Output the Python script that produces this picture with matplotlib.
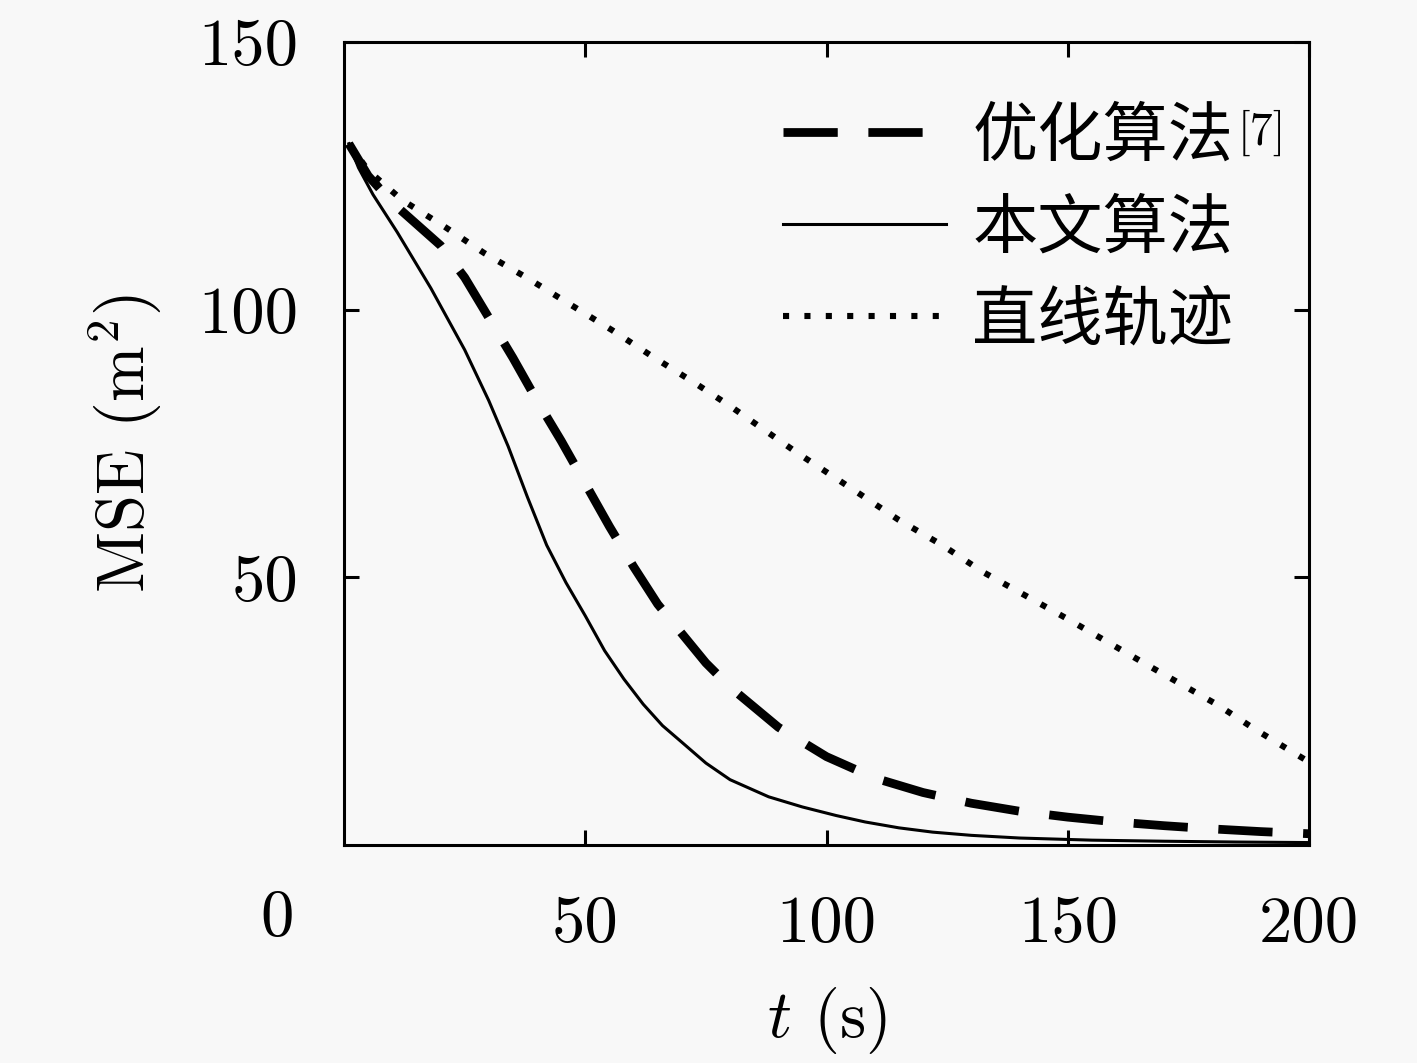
import matplotlib
matplotlib.use("Agg")
import matplotlib.pyplot as plt
from matplotlib.ticker import FixedLocator, FixedFormatter

plt.rcParams['font.family'] = ['cmr10', 'Noto Sans CJK SC', 'DejaVu Sans']
plt.rcParams['mathtext.fontset'] = 'cm'
plt.rcParams['axes.unicode_minus'] = False

# ---- data ----
t_opt = [1, 5, 10, 15, 20, 25, 30, 35, 40, 45, 50, 55, 60, 65, 70, 75, 80, 90, 100,
         110, 120, 130, 140, 150, 160, 170, 180, 190, 200]
mse_opt = [131, 125, 120, 116, 112, 106, 98.5, 91, 83, 75.5, 67.5, 59.5, 52, 45, 39.5,
           34, 29.5, 22, 16.5, 12.5, 9.8, 7.8, 6.3, 5.2, 4.3, 3.6, 3.0, 2.5, 2.1]

t_ours = [1, 3, 6, 11, 18, 25, 30, 34, 38, 42, 46, 50, 54, 58, 62, 66, 70, 75, 80, 88,
          95, 102, 108, 115, 122, 130, 140, 155, 170, 185, 200]
mse_ours = [131, 126.5, 121.5, 114.5, 104, 92.5, 83, 74.5, 65, 56, 49, 42.8, 36.3, 31,
            26.3, 22.3, 19.2, 15.3, 12.2, 9, 7.1, 5.5, 4.3, 3.2, 2.4, 1.8, 1.3, 0.9, 0.7,
            0.55, 0.45]

t_line = [1, 5, 12, 21, 29, 38, 47, 55.5, 64, 72.7, 80, 94, 106.5, 115, 124, 132.4,
          150, 167.5, 181, 189, 200]
mse_line = [131, 126, 120.5, 115.4, 110.6, 105.9, 100.9, 96.2, 91.2, 86.3, 82, 73.2,
            65.8, 60.7, 56, 51, 42.2, 33.1, 26.2, 21.5, 15.5]

labels = ['优化算法', '本文算法', '直线轨迹']
ref_mark = '[7]'
x_ticks = [50, 100, 150, 200]
y_ticks = [50, 100, 150]
x_label = '$t$ (s)'
y_label = 'MSE (m$^2$)'

# ---- figure ----
bg = '#f8f8f8'
fig = plt.figure(figsize=(14.17, 10.63), dpi=100, facecolor=bg)
ax = fig.add_axes([0.2428, 0.2051, 0.681, 0.7554], facecolor=bg)

ax.plot(t_opt, mse_opt, color='black', lw=6.3, dashes=(6.2, 3.5), label=labels[0])
ax.plot(t_ours, mse_ours, color='black', lw=2.2, label=labels[1])
ax.plot(t_line, mse_line, color='black', lw=4.4, dashes=(1.0, 2.5), label=labels[2])

ax.set_xlim(0, 200)
ax.set_ylim(0, 150)
ax.xaxis.set_major_locator(FixedLocator(x_ticks))
ax.xaxis.set_major_formatter(FixedFormatter([str(v) for v in x_ticks]))
ax.yaxis.set_major_locator(FixedLocator(y_ticks))
ax.yaxis.set_major_formatter(FixedFormatter([str(v) for v in y_ticks]))

for s in ax.spines.values():
    s.set_linewidth(2.2)
ax.tick_params(direction='in', length=11, width=2.2, top=True, right=True,
               labelsize=48, pad=33)
ax.tick_params(axis='x', pad=36)

ax.text(-0.069, -0.093, '0', transform=ax.transAxes, ha='center', va='center',
        fontsize=48)

ax.set_xlabel(x_label, fontsize=48, va='center')
ax.xaxis.set_label_coords(0.5, -0.218)
ax.set_ylabel(y_label, fontsize=48, va='center')
ax.yaxis.set_label_coords(-0.227, 0.5)

leg = ax.legend(loc='upper left', bbox_to_anchor=(0.455, 0.918), frameon=False,
                fontsize=47, handlelength=2.5, handletextpad=0.4,
                labelspacing=0.48, borderpad=0, borderaxespad=0)

# superscript reference mark after the first legend entry
fig.canvas.draw()
renderer = fig.canvas.get_renderer()
bb = leg.get_texts()[0].get_window_extent(renderer)
fx, fy = fig.transFigure.inverted().transform((bb.x1 + 4, bb.y1 - 2))
fig.text(fx, fy, ref_mark, fontsize=33, ha='left', va='top')

fig.savefig('out.png', dpi=100, facecolor=bg)
